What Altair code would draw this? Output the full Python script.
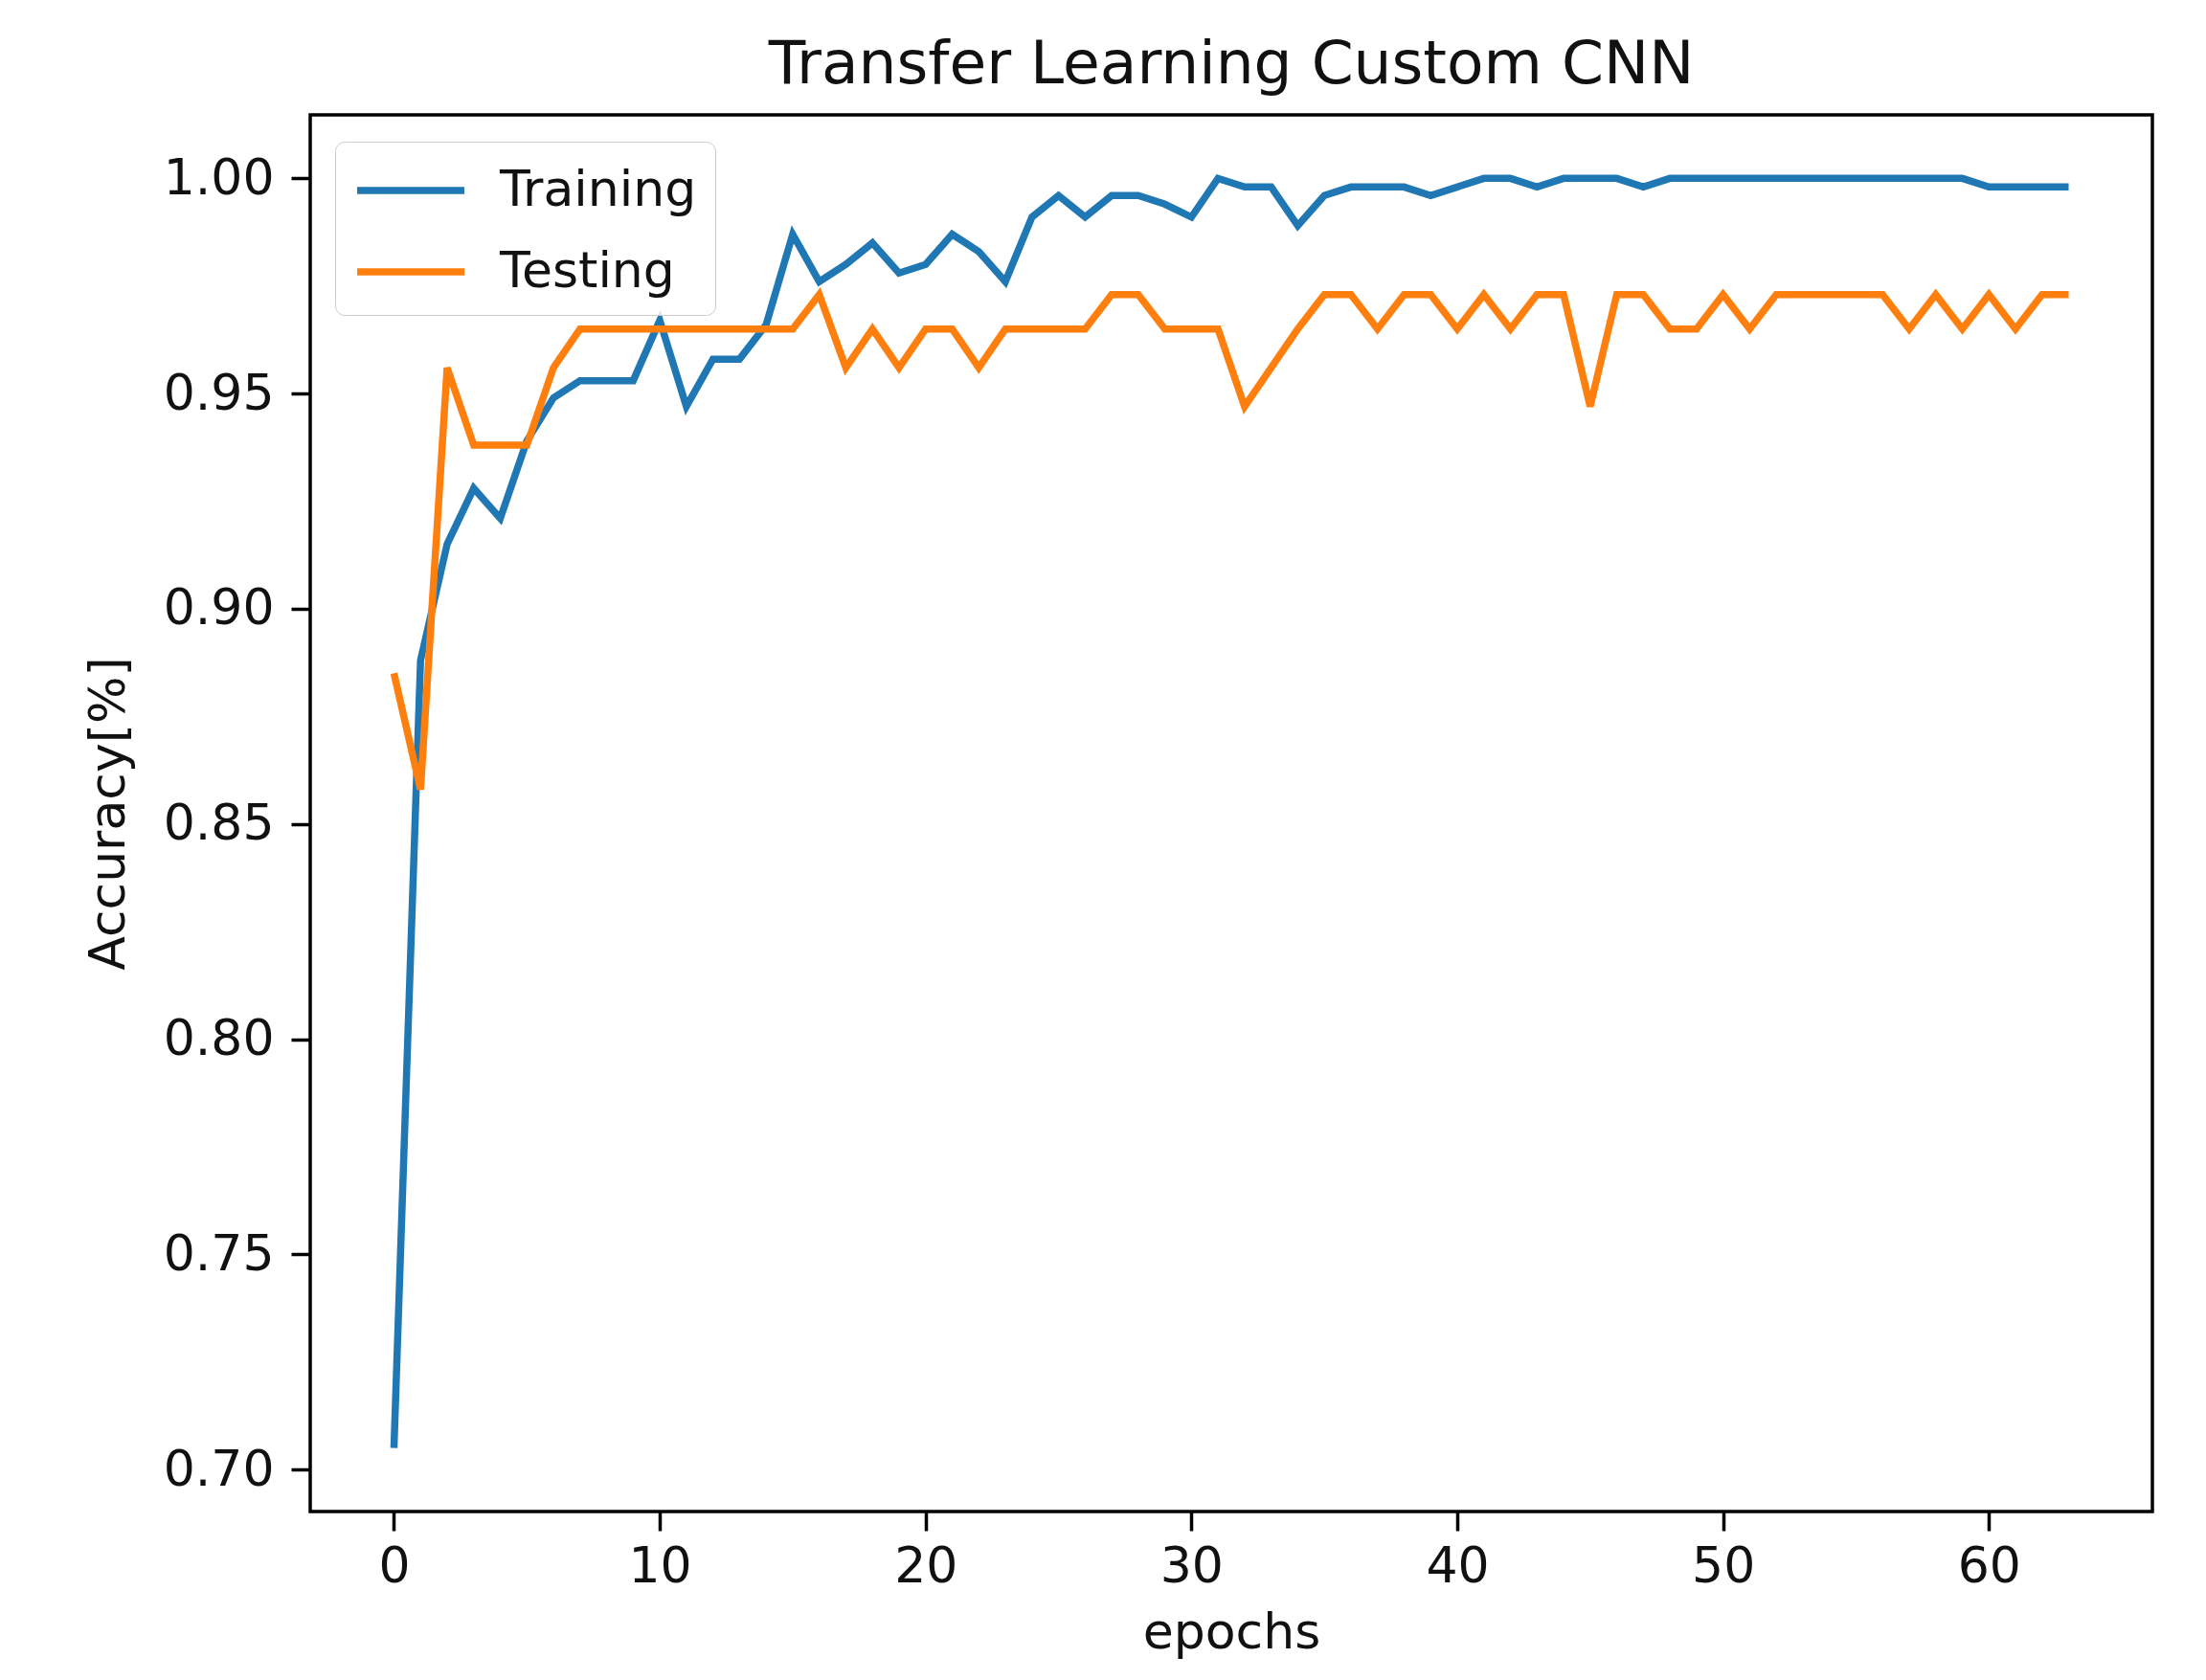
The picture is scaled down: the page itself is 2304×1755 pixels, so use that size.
import altair as alt
import pandas as pd

epochs = list(range(64))
training = [0.705, 0.888, 0.915, 0.928, 0.921, 0.939, 0.949, 0.953, 0.953, 0.953,
            0.967, 0.947, 0.958, 0.958, 0.966, 0.987, 0.976, 0.980, 0.985, 0.978,
            0.980, 0.987, 0.983, 0.976, 0.991, 0.996, 0.991, 0.996, 0.996, 0.994,
            0.991, 1.000, 0.998, 0.998, 0.989, 0.996, 0.998, 0.998, 0.998, 0.996,
            0.998, 1.000, 1.000, 0.998, 1.000, 1.000, 1.000, 0.998, 1.000, 1.000,
            1.000, 1.000, 1.000, 1.000, 1.000, 1.000, 1.000, 1.000, 1.000, 1.000,
            0.998, 0.998, 0.998, 0.998]
testing = [0.885, 0.858, 0.956, 0.938, 0.938, 0.938, 0.956, 0.965, 0.965, 0.965,
           0.965, 0.965, 0.965, 0.965, 0.965, 0.965, 0.973, 0.956, 0.965, 0.956,
           0.965, 0.965, 0.956, 0.965, 0.965, 0.965, 0.965, 0.973, 0.973, 0.965,
           0.965, 0.965, 0.947, 0.956, 0.965, 0.973, 0.973, 0.965, 0.973, 0.973,
           0.965, 0.973, 0.965, 0.973, 0.973, 0.947, 0.973, 0.973, 0.965, 0.965,
           0.973, 0.965, 0.973, 0.973, 0.973, 0.973, 0.973, 0.965, 0.973, 0.965,
           0.973, 0.965, 0.973, 0.973]
series_names = ["Training", "Testing"]
series_colors = ["#1f77b4", "#ff7f0e"]
x_ticks = [0, 10, 20, 30, 40, 50, 60]
y_ticks = [0.70, 0.75, 0.80, 0.85, 0.90, 0.95, 1.00]

rows = []
for e, tr, te in zip(epochs, training, testing):
    rows.append({"epoch": e, "acc": tr, "series": "Training"})
    rows.append({"epoch": e, "acc": te, "series": "Testing"})
df = pd.DataFrame(rows)

FONT = "DejaVu Sans"

chart = alt.Chart(df).mark_line(strokeWidth=7.5, strokeCap="butt", strokeJoin="miter").encode(
    x=alt.X("epoch:Q",
            scale=alt.Scale(domain=[-3.15, 66.15], nice=False, zero=False),
            axis=alt.Axis(values=x_ticks, title="epochs", format="d",
                          labelPadding=12, titlePadding=18)),
    y=alt.Y("acc:Q",
            scale=alt.Scale(domain=[0.69025, 1.01475], nice=False, zero=False),
            axis=alt.Axis(values=y_ticks, title="Accuracy[%]", format=".2f",
                          labelPadding=18, titlePadding=30)),
    color=alt.Color("series:N",
                    scale=alt.Scale(domain=series_names, range=series_colors),
                    legend=alt.Legend(title=None, orient="none", legendX=26, legendY=28,
                                      symbolType="M-2,0H2", symbolSize=3136,
                                      symbolOffset=28,
                                      symbolStrokeWidth=7.5, labelFontSize=52,
                                      labelFont=FONT, labelColor="#111111", labelLimit=0,
                                      labelOffset=61, rowPadding=27, padding=19,
                                      fillColor="rgba(255,255,255,0.8)",
                                      strokeColor="#cccccc", cornerRadius=10)),
    detail="series:N",
).properties(
    width=1924,
    height=1459,
    background="white",
    title=alt.TitleParams("Transfer Learning Custom CNN", fontSize=63, font=FONT,
                          fontWeight="normal", color="#111111", offset=20),
    autosize=alt.AutoSizeParams(type="none"),
    padding={"left": 316, "top": 112, "right": 48, "bottom": 160},
).configure_view(
    stroke="black", strokeWidth=3.5
).configure_axis(
    grid=False, domain=False, ticks=True, tickSize=20, tickWidth=3.5, tickColor="black",
    labelFont=FONT, labelFontSize=52, labelColor="#111111",
    titleFont=FONT, titleFontSize=52, titleFontWeight="normal", titleColor="#111111",
)

chart.save("out.html", embed_options={"renderer": "svg", "actions": False})
